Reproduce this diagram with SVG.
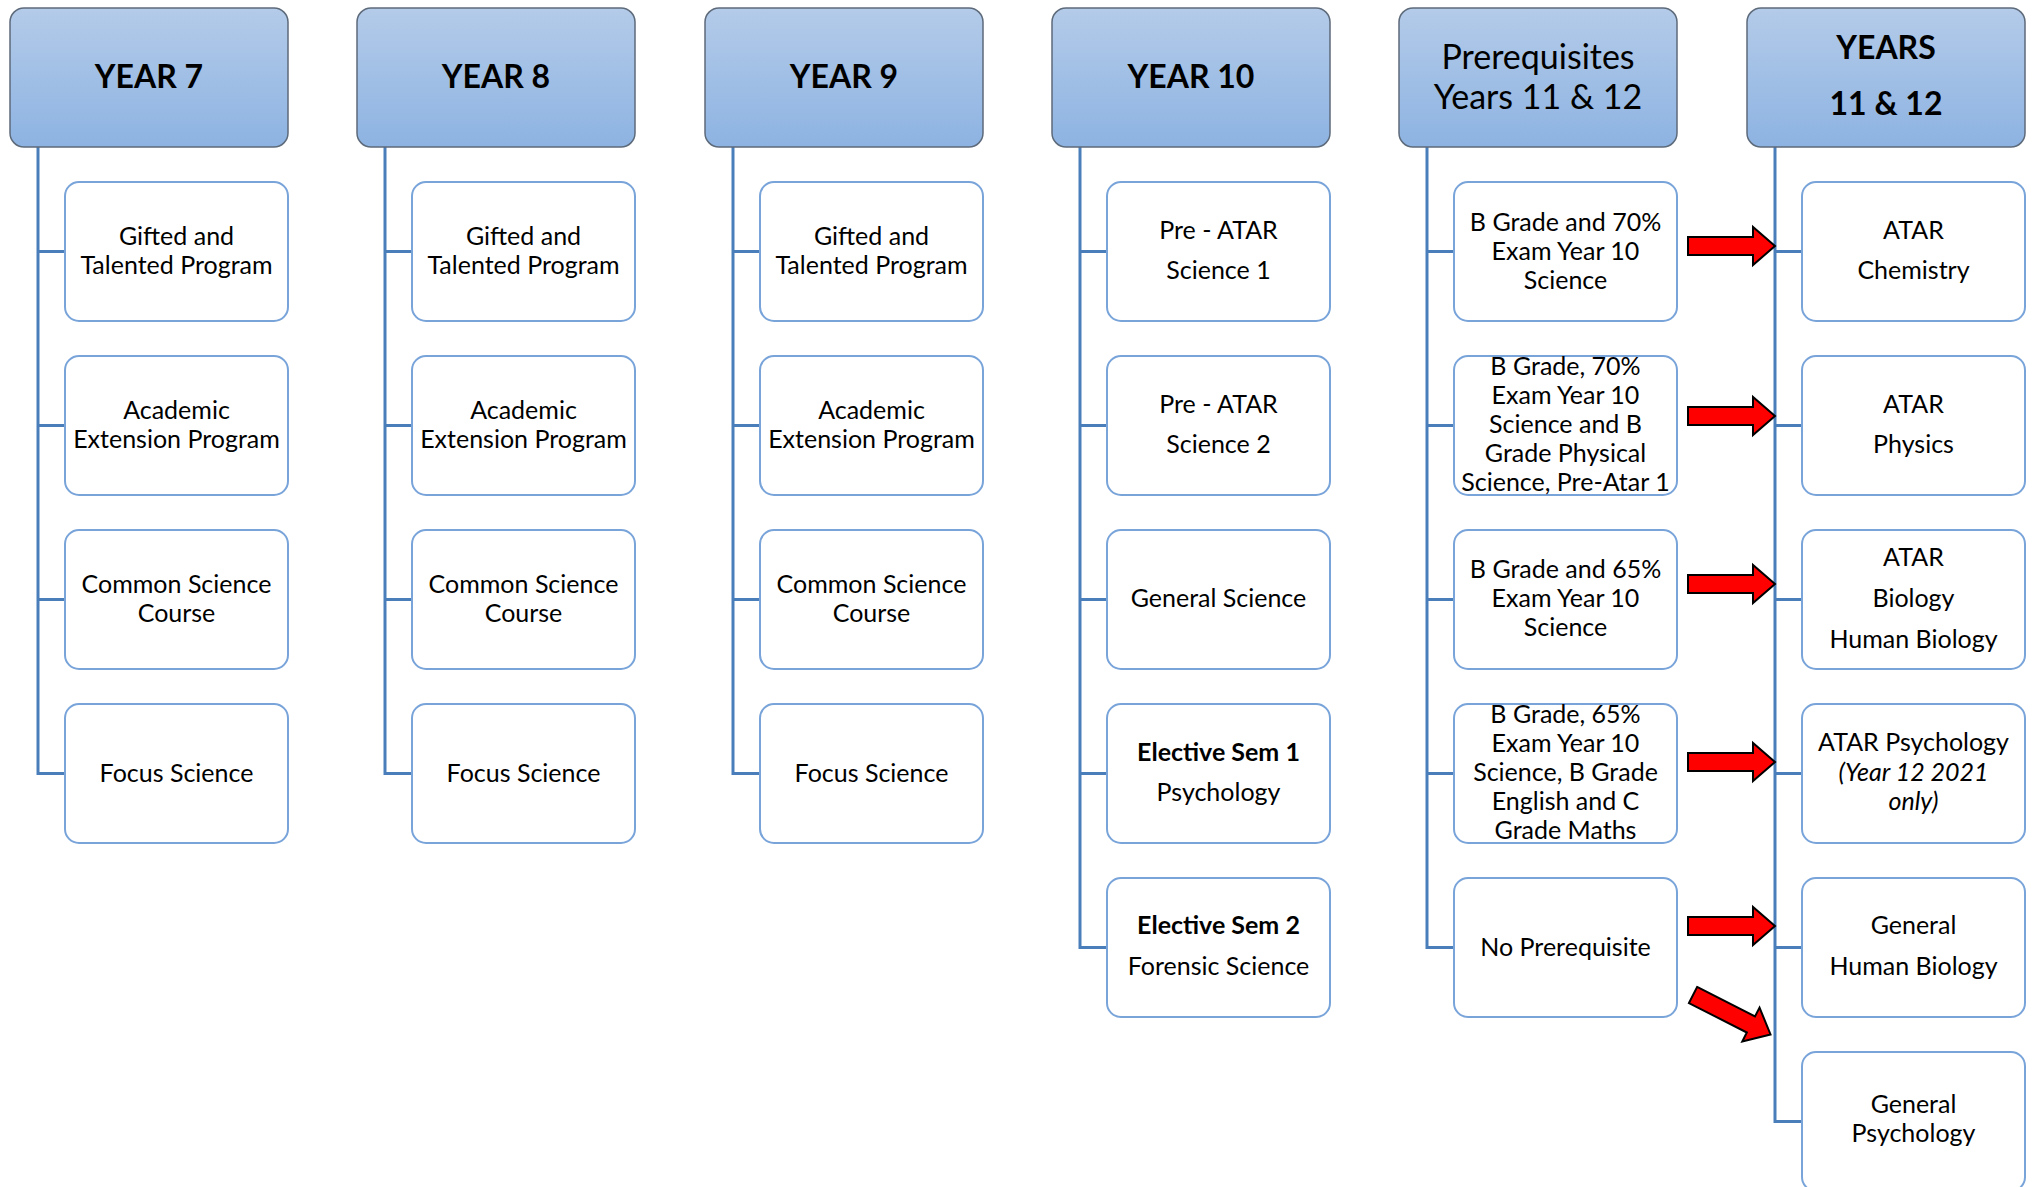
<svg xmlns="http://www.w3.org/2000/svg" width="2035" height="1187" viewBox="0 0 2035 1187">
<defs>
<linearGradient id="hg" x1="0" y1="0" x2="0" y2="1">
<stop offset="0" stop-color="#b4cbe9"/>
<stop offset="1" stop-color="#8db3e2"/>
</linearGradient>
<path id="arr" d="M0,-9 H65 V-19 L87,0 L65,19 V9 H0 Z"/>
</defs>
<style>
.hdr{fill:url(#hg);stroke:#5d6a7a;stroke-width:1.5}
.box{fill:#fff;stroke:#79a4da;stroke-width:2}
.ln{fill:none;stroke:#4a7ebb;stroke-width:3}
.ar{fill:#ff0000;stroke:#000;stroke-width:2;stroke-linejoin:miter}
text{font-family:Lato,"Liberation Sans",sans-serif;fill:#000;text-anchor:middle}
.h{font-size:32px;font-weight:bold}
.hr{font-size:34px}
.t{font-size:25px}
.b{font-weight:bold}
.i{font-style:italic}
</style>
<rect width="2035" height="1187" fill="#fff"/>
<g id="connectors">
<path class="ln" d="M38,147 V773.5 H65 M38,251.5 H65 M38,425.5 H65 M38,599.5 H65"/>
<path class="ln" d="M385,147 V773.5 H412 M385,251.5 H412 M385,425.5 H412 M385,599.5 H412"/>
<path class="ln" d="M733,147 V773.5 H760 M733,251.5 H760 M733,425.5 H760 M733,599.5 H760"/>
<path class="ln" d="M1080,147 V947.5 H1107 M1080,251.5 H1107 M1080,425.5 H1107 M1080,599.5 H1107 M1080,773.5 H1107"/>
<path class="ln" d="M1427,147 V947.5 H1454 M1427,251.5 H1454 M1427,425.5 H1454 M1427,599.5 H1454 M1427,773.5 H1454"/>
<path class="ln" d="M1775,147 V1121.5 H1802 M1775,251.5 H1802 M1775,425.5 H1802 M1775,599.5 H1802 M1775,773.5 H1802 M1775,947.5 H1802"/>
<use href="#arr" class="ar" transform="translate(1688,246)"/>
<use href="#arr" class="ar" transform="translate(1688,416)"/>
<use href="#arr" class="ar" transform="translate(1688,584)"/>
<use href="#arr" class="ar" transform="translate(1688,762)"/>
<use href="#arr" class="ar" transform="translate(1688,926)"/>
<use href="#arr" class="ar" transform="translate(1693,995) rotate(27)"/>
</g>

<g id="year7">
<rect class="hdr" x="10" y="8" width="278" height="139" rx="14"/>
<text class="h" x="149" y="88">YEAR 7</text>
</g>
<g id="y7-gifted"><rect class="box" x="65" y="182" width="223" height="139" rx="14"/>
<text class="t" x="176.5" y="244.5">Gifted and</text><text class="t" x="176.5" y="273.5">Talented Program</text></g>
<g id="y7-academic"><rect class="box" x="65" y="356" width="223" height="139" rx="14"/>
<text class="t" x="176.5" y="418.5">Academic</text><text class="t" x="176.5" y="447.5">Extension Program</text></g>
<g id="y7-common"><rect class="box" x="65" y="530" width="223" height="139" rx="14"/>
<text class="t" x="176.5" y="592.5">Common Science</text><text class="t" x="176.5" y="621.5">Course</text></g>
<g id="y7-focus"><rect class="box" x="65" y="704" width="223" height="139" rx="14"/>
<text class="t" x="176.5" y="781.5">Focus Science</text></g>

<g id="year8">
<rect class="hdr" x="357" y="8" width="278" height="139" rx="14"/>
<text class="h" x="496" y="88">YEAR 8</text>
</g>
<g id="y8-gifted"><rect class="box" x="412" y="182" width="223" height="139" rx="14"/>
<text class="t" x="523.5" y="244.5">Gifted and</text><text class="t" x="523.5" y="273.5">Talented Program</text></g>
<g id="y8-academic"><rect class="box" x="412" y="356" width="223" height="139" rx="14"/>
<text class="t" x="523.5" y="418.5">Academic</text><text class="t" x="523.5" y="447.5">Extension Program</text></g>
<g id="y8-common"><rect class="box" x="412" y="530" width="223" height="139" rx="14"/>
<text class="t" x="523.5" y="592.5">Common Science</text><text class="t" x="523.5" y="621.5">Course</text></g>
<g id="y8-focus"><rect class="box" x="412" y="704" width="223" height="139" rx="14"/>
<text class="t" x="523.5" y="781.5">Focus Science</text></g>

<g id="year9">
<rect class="hdr" x="705" y="8" width="278" height="139" rx="14"/>
<text class="h" x="844" y="88">YEAR 9</text>
</g>
<g id="y9-gifted"><rect class="box" x="760" y="182" width="223" height="139" rx="14"/>
<text class="t" x="871.5" y="244.5">Gifted and</text><text class="t" x="871.5" y="273.5">Talented Program</text></g>
<g id="y9-academic"><rect class="box" x="760" y="356" width="223" height="139" rx="14"/>
<text class="t" x="871.5" y="418.5">Academic</text><text class="t" x="871.5" y="447.5">Extension Program</text></g>
<g id="y9-common"><rect class="box" x="760" y="530" width="223" height="139" rx="14"/>
<text class="t" x="871.5" y="592.5">Common Science</text><text class="t" x="871.5" y="621.5">Course</text></g>
<g id="y9-focus"><rect class="box" x="760" y="704" width="223" height="139" rx="14"/>
<text class="t" x="871.5" y="781.5">Focus Science</text></g>

<g id="year10">
<rect class="hdr" x="1052" y="8" width="278" height="139" rx="14"/>
<text class="h" x="1191" y="88">YEAR 10</text>
</g>
<g id="y10-preatar1"><rect class="box" x="1107" y="182" width="223" height="139" rx="14"/>
<text class="t" x="1218.5" y="238.5">Pre - ATAR</text><text class="t" x="1218.5" y="278.5">Science 1</text></g>
<g id="y10-preatar2"><rect class="box" x="1107" y="356" width="223" height="139" rx="14"/>
<text class="t" x="1218.5" y="412.5">Pre - ATAR</text><text class="t" x="1218.5" y="452.5">Science 2</text></g>
<g id="y10-general"><rect class="box" x="1107" y="530" width="223" height="139" rx="14"/>
<text class="t" x="1218.5" y="606.5">General Science</text></g>
<g id="y10-elective1"><rect class="box" x="1107" y="704" width="223" height="139" rx="14"/>
<text class="t b" x="1218.5" y="760.5">Elective Sem 1</text><text class="t" x="1218.5" y="800.5">Psychology</text></g>
<g id="y10-elective2"><rect class="box" x="1107" y="878" width="223" height="139" rx="14"/>
<text class="t b" x="1218.5" y="933.5">Elective Sem 2</text><text class="t" x="1218.5" y="974.5">Forensic Science</text></g>

<g id="prereq">
<rect class="hdr" x="1399" y="8" width="278" height="139" rx="14"/>
<text class="hr" x="1538" y="69">Prerequisites</text>
<text class="hr" x="1538" y="109">Years 11 &amp; 12</text>
</g>
<g id="pre-chem"><rect class="box" x="1454" y="182" width="223" height="139" rx="14"/>
<text class="t" x="1565.5" y="230.5">B Grade and 70%</text><text class="t" x="1565.5" y="259.5">Exam Year 10</text><text class="t" x="1565.5" y="288.5">Science</text></g>
<g id="pre-phys"><rect class="box" x="1454" y="356" width="223" height="139" rx="14"/>
<text class="t" x="1565.5" y="374.5">B Grade, 70%</text><text class="t" x="1565.5" y="403.5">Exam Year 10</text><text class="t" x="1565.5" y="432.5">Science and B</text><text class="t" x="1565.5" y="461.5">Grade Physical</text><text class="t" x="1565.5" y="490.5">Science, Pre-Atar 1</text></g>
<g id="pre-bio"><rect class="box" x="1454" y="530" width="223" height="139" rx="14"/>
<text class="t" x="1565.5" y="577.5">B Grade and 65%</text><text class="t" x="1565.5" y="606.5">Exam Year 10</text><text class="t" x="1565.5" y="635.5">Science</text></g>
<g id="pre-psych"><rect class="box" x="1454" y="704" width="223" height="139" rx="14"/>
<text class="t" x="1565.5" y="722.5">B Grade, 65%</text><text class="t" x="1565.5" y="751.5">Exam Year 10</text><text class="t" x="1565.5" y="780.5">Science, B Grade</text><text class="t" x="1565.5" y="809.5">English and C</text><text class="t" x="1565.5" y="838.5">Grade Maths</text></g>
<g id="pre-none"><rect class="box" x="1454" y="878" width="223" height="139" rx="14"/>
<text class="t" x="1565.5" y="955.5">No Prerequisite</text></g>

<g id="year1112">
<rect class="hdr" x="1747" y="8" width="278" height="139" rx="14"/>
<text class="h" x="1886" y="59">YEARS</text>
<text class="h" x="1886" y="115">11 &amp; 12</text>
</g>
<g id="atar-chem"><rect class="box" x="1802" y="182" width="223" height="139" rx="14"/>
<text class="t" x="1913.5" y="238.5">ATAR</text><text class="t" x="1913.5" y="278.5">Chemistry</text></g>
<g id="atar-phys"><rect class="box" x="1802" y="356" width="223" height="139" rx="14"/>
<text class="t" x="1913.5" y="412.5">ATAR</text><text class="t" x="1913.5" y="452.5">Physics</text></g>
<g id="atar-bio"><rect class="box" x="1802" y="530" width="223" height="139" rx="14"/>
<text class="t" x="1913.5" y="565.5">ATAR</text><text class="t" x="1913.5" y="606.5">Biology</text><text class="t" x="1913.5" y="647.5">Human Biology</text></g>
<g id="atar-psych"><rect class="box" x="1802" y="704" width="223" height="139" rx="14"/>
<text class="t" x="1913.5" y="750.5">ATAR Psychology</text><text class="t i" x="1913.5" y="780.5">(Year 12 2021</text><text class="t i" x="1913.5" y="809.5">only)</text></g>
<g id="gen-hbio"><rect class="box" x="1802" y="878" width="223" height="139" rx="14"/>
<text class="t" x="1913.5" y="933.5">General</text><text class="t" x="1913.5" y="974.5">Human Biology</text></g>
<g id="gen-psych"><rect class="box" x="1802" y="1052" width="223" height="139" rx="14"/>
<text class="t" x="1913.5" y="1112.5">General</text><text class="t" x="1913.5" y="1141.5">Psychology</text></g>
</svg>
